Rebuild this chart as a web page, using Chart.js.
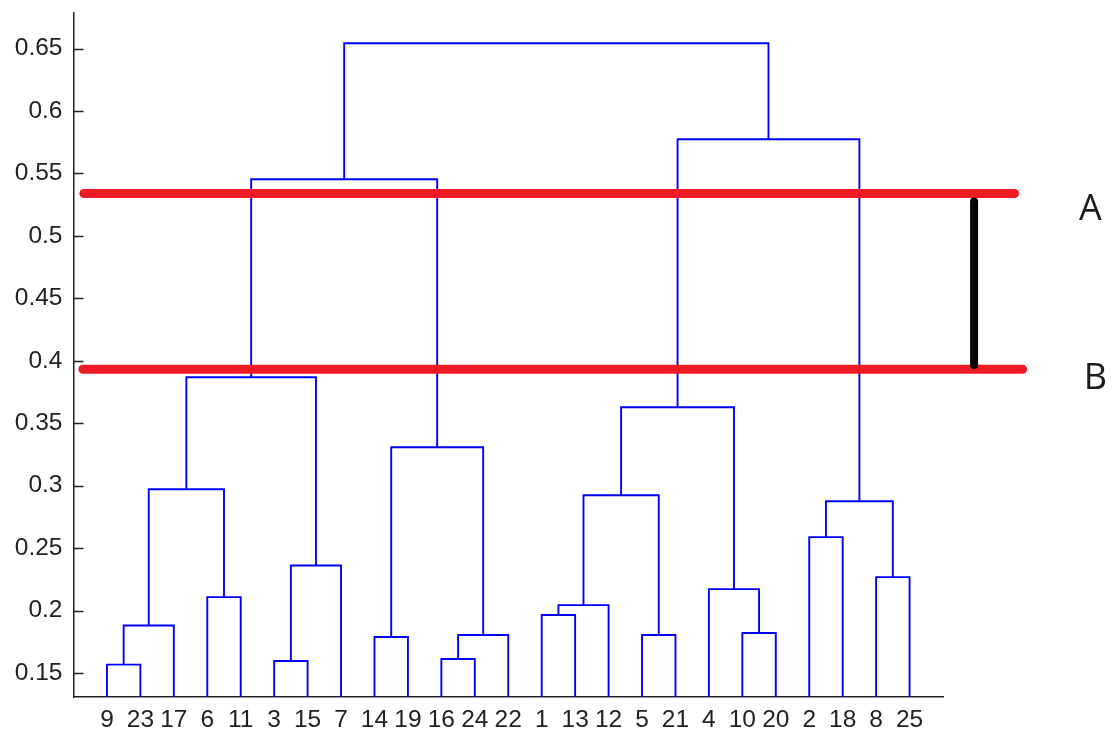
<!DOCTYPE html>
<html>
<head>
<meta charset="utf-8">
<script src="https://cdn.jsdelivr.net/npm/chart.js@4.4.1/dist/chart.umd.min.js"></script>
<style>
html, body { margin: 0; padding: 0; background: #fff; }
#wrap { width: 1114px; height: 733px; }
</style>
</head>
<body>
<div id="wrap"><canvas id="DendroChart" width="1114" height="733"></canvas></div>
<script>
// leaves in the order they sit along the x axis
var leafOrder = [9, 23, 17, 6, 11, 3, 15, 7, 14, 19, 16, 24, 22, 1, 13, 12, 5, 21, 4, 10, 20, 2, 18, 8, 25];

// linkage: cluster 26+k joins mergeLeft[k] and mergeRight[k] at mergeHeight[k]
var mergeLeft   = [9, 3, 16, 14, 28, 5, 10, 26, 1, 34, 6, 4, 8, 27, 2, 40, 35, 33, 29, 42, 43, 46, 45, 47];
var mergeRight  = [23, 15, 24, 19, 22, 21, 20, 17, 13, 12, 11, 32, 25, 7, 18, 38, 31, 36, 30, 37, 39, 44, 41, 48];
var mergeHeight = [0.1567, 0.1596, 0.1612, 0.1788, 0.1804, 0.1804, 0.182, 0.1881, 0.1964, 0.2044, 0.2108, 0.2172,
                   0.2268, 0.2361, 0.2588, 0.2876, 0.2924, 0.2972, 0.3308, 0.3628, 0.3868, 0.5454, 0.5774, 0.6543];

// cut levels drawn as red lines
var cutHeights = [0.534, 0.3932];
var cutLabels = ['A', 'B'];

// y axis ticks
var yTicks = [0.15, 0.2, 0.25, 0.3, 0.35, 0.4, 0.45, 0.5, 0.55, 0.6, 0.65];
var yTickLabels = ['0.15', '0.2', '0.25', '0.3', '0.35', '0.4', '0.45', '0.5', '0.55', '0.6', '0.65'];

var yMin = 0.1308, yMax = 0.6785;
var nLeaves = leafOrder.length;

// x position and height of every node (leaves first, then clusters)
var nodeX = {}, nodeH = {};
leafOrder.forEach(function(leaf, i) {
    nodeX[leaf] = i + 1;
    nodeH[leaf] = yMin;
});
mergeHeight.forEach(function(h, k) {
    var id = nLeaves + 1 + k;
    nodeX[id] = (nodeX[mergeLeft[k]] + nodeX[mergeRight[k]]) / 2;
    nodeH[id] = h;
});

var datasets = [];

// Cut lines
cutHeights.forEach(function(h, i) {
    datasets.push({
        data: [{x: i === 0 ? 0.31 : 0.28, y: h}, {x: i === 0 ? 28.14 : 28.38, y: h}],
        showLine: true,
        borderColor: '#ed1c24',
        borderWidth: 9,
        borderCapStyle: 'round',
        pointRadius: 0,
        clip: false,
        order: 0
    });
});

// black bar between the two cuts
datasets.push({
    data: [{x: 26.93, y: cutHeights[0] - 0.0065}, {x: 26.93, y: cutHeights[1] + 0.0035}],
    showLine: true,
    borderColor: '#000',
    borderWidth: 8,
    borderCapStyle: 'round',
    pointRadius: 0,
    clip: false,
    order: -1
});

// Dendrogram links
mergeHeight.forEach(function(h, k) {
    var l = mergeLeft[k], r = mergeRight[k];
    datasets.push({
        data: [
            {x: nodeX[l], y: nodeH[l]},
            {x: nodeX[l], y: h},
            {x: nodeX[r], y: h},
            {x: nodeX[r], y: nodeH[r]}
        ],
        showLine: true,
        borderColor: '#0000ff',
        borderWidth: 1.9,
        pointRadius: 0,
        tension: 0,
        order: 2
    });
});

// inward y ticks and the A / B labels
var extras = {
    id: 'extras',
    afterDraw: function(chart) {
        var ctx = chart.ctx, area = chart.chartArea;
        var xs = chart.scales.x, ys = chart.scales.y;
        ctx.save();
        ctx.strokeStyle = '#222';
        ctx.lineWidth = 1.5;
        yTicks.forEach(function(v) {
            var py = Math.round(ys.getPixelForValue(v)) + 0.5;
            ctx.beginPath();
            ctx.moveTo(area.left, py);
            ctx.lineTo(area.left + 10, py);
            ctx.stroke();
        });
        ctx.fillStyle = '#1b1b1b';
        ctx.font = '36px "Open Sans"';
        ctx.textAlign = 'center';
        ctx.textBaseline = 'alphabetic';
        var labelX = [30.41, 30.56], labelDy = [26.7, 19.7];
        cutLabels.forEach(function(t, i) {
            ctx.fillText(t, xs.getPixelForValue(labelX[i]), ys.getPixelForValue(cutHeights[i]) + labelDy[i]);
        });
        ctx.restore();
    }
};

var ctx = document.getElementById('DendroChart').getContext('2d');
var myChart = new Chart(ctx, {
    type: 'scatter',
    data: { datasets: datasets },
    options: {
        responsive: false,
        devicePixelRatio: 1,
        animation: false,
        layout: { padding: { top: 13, right: 171, left: 0, bottom: 0 } },
        plugins: {
            legend: { display: false },
            tooltip: { enabled: false }
        },
        scales: {
            x: {
                type: 'linear',
                min: 0,
                max: nLeaves + 1,
                grid: { display: false, drawTicks: false },
                border: { display: true, color: '#222', width: 1.5 },
                afterBuildTicks: function(scale) {
                    scale.ticks = leafOrder.map(function(l, i) { return {value: i + 1}; });
                },
                afterFit: function(scale) {
                    scale.height = 36;
                    scale.paddingLeft = 0;
                    scale.paddingRight = 0;
                },
                ticks: {
                    autoSkip: false,
                    maxRotation: 0,
                    padding: 9,
                    color: '#222',
                    font: { family: 'Liberation Sans', size: 24.5 },
                    callback: function(v) { return String(leafOrder[v - 1]); }
                }
            },
            y: {
                type: 'linear',
                min: yMin,
                max: yMax,
                grid: { display: false, drawTicks: false },
                border: { display: true, color: '#222', width: 1.5 },
                afterBuildTicks: function(scale) {
                    scale.ticks = yTicks.map(function(v) { return {value: v}; });
                },
                afterFit: function(scale) {
                    scale.width = 73.5;
                    scale.paddingTop = 0;
                    scale.paddingBottom = 0;
                },
                ticks: {
                    padding: 11,
                    color: '#222',
                    font: { family: 'Liberation Sans', size: 24.5 },
                    callback: function(v, i) { return yTickLabels[i]; }
                }
            }
        }
    },
    plugins: [extras]
});
</script>
</body>
</html>
